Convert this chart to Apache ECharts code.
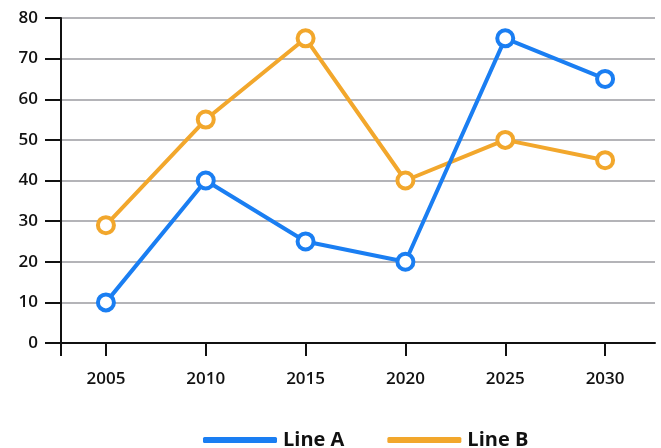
<!DOCTYPE html>
<html><head><meta charset="utf-8">
<script src="https://cdn.jsdelivr.net/npm/echarts@6/dist/echarts.min.js"></script>
<style>html,body{margin:0;padding:0;background:#fff}#c{width:661px;height:448px}</style>
</head><body><div id="c"></div>
<script>
const years = [2005, 2010, 2015, 2020, 2025, 2030];
const lineA = [10, 40, 25, 20, 75, 65];
const lineB = [29, 55, 75, 40, 50, 45];
const yTicks = [0, 10, 20, 30, 40, 50, 60, 70, 80];

const chart = echarts.init(document.getElementById('c'));
const blue = '#1a7ef2', orange = '#f2a72c';
function mk(name, vals, color) {
  return {
    name, type: 'line', data: years.map((y, i) => [y, vals[i]]),
    symbol: 'circle', symbolSize: 16,
    itemStyle: { color: '#fff', borderColor: color, borderWidth: 4 },
    lineStyle: { color, width: 4 }, z: name === 'Line A' ? 3 : 2
  };
}
const font = 'Open Sans';
chart.setOption({
  animation: false,
  grid: { left: 61, top: 18, right: 6, bottom: 105 },
  xAxis: {
    type: 'value', min: 2002.75, max: 2032.5,
    axisLine: { lineStyle: { color: '#111', width: 2 } },
    axisTick: { show: true, length: 13, lineStyle: { color: '#111', width: 2 }, customValues: [2002.75].concat(years) },
    axisLabel: { customValues: years, formatter: v => String(v), color: '#111', fontSize: 17, fontWeight: 600, fontFamily: font, margin: 28 },
    splitLine: { show: false }
  },
  yAxis: {
    type: 'value', min: 0, max: 80, interval: 10,
    axisLine: { show: true, lineStyle: { color: '#111', width: 2 } },
    axisTick: { show: true, length: 16, lineStyle: { color: '#111', width: 2 } },
    axisLabel: { color: '#111', fontSize: 17, fontWeight: 600, fontFamily: font, margin: 23 },
    splitLine: { lineStyle: { color: '#b4b4b8', width: 2 } }
  },
  legend: {
    top: 425, left: 198, itemWidth: 74, itemHeight: 6, itemGap: 43,
    icon: 'roundRect',
    textStyle: { fontSize: 20, fontWeight: 'bold', color: '#111', fontFamily: font, padding: [0, 0, 0, 1] },
    data: [{ name: 'Line A', itemStyle: { color: blue, borderWidth: 0 } }, { name: 'Line B', itemStyle: { color: orange, borderWidth: 0 } }]
  },
  series: [mk('Line A', lineA, blue), mk('Line B', lineB, orange)]
});
</script></body></html>
